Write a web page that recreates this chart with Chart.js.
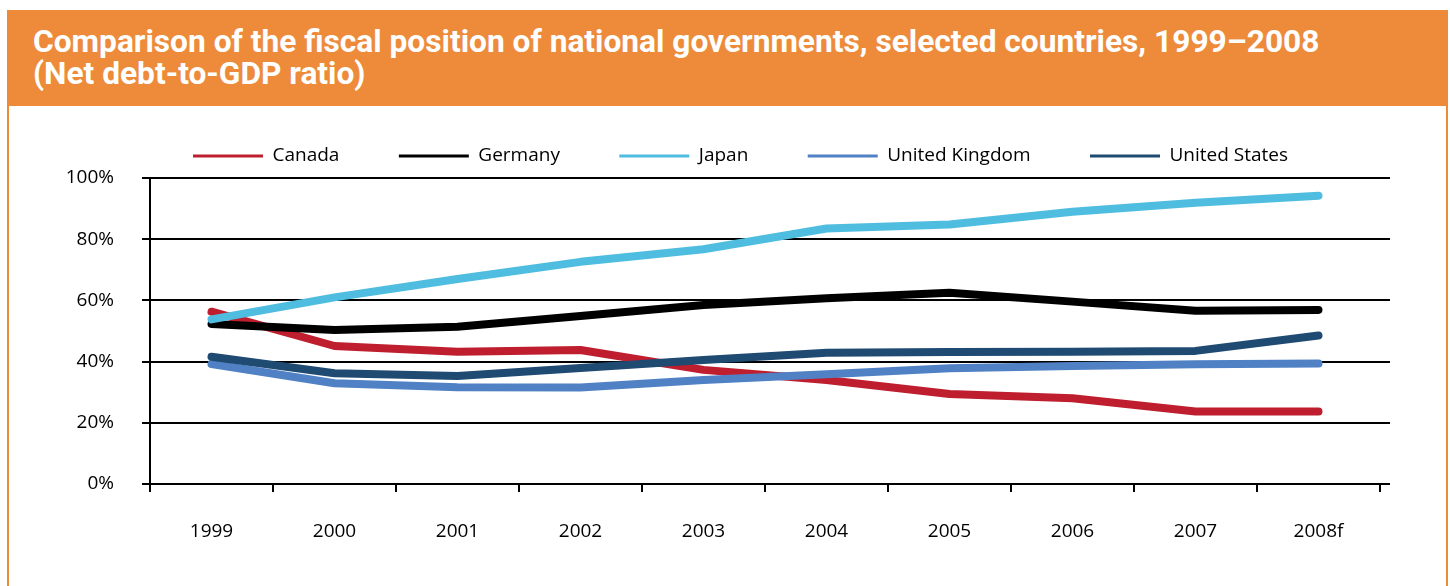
<!DOCTYPE html>
<html>
<head>
<meta charset="utf-8">
<script src="https://cdn.jsdelivr.net/npm/chart.js@4.4.1/dist/chart.umd.min.js"></script>
<style>
  html, body { margin: 0; padding: 0; background: #fff; }
  body { width: 1450px; height: 586px; position: relative; overflow: hidden; }
  #frame {
    position: absolute; left: 7px; top: 40px; width: 1437px; height: 600px;
    border-left: 2px solid #ed8b3b; border-right: 2px solid #ed8b3b;
  }
  #header {
    position: absolute; left: 7px; top: 10px; width: 1441px; height: 96px;
    background: #ed8b3b;
  }
  #title {
    position: absolute; left: 33px; top: 26px; color: #fff;
    font: bold 31.7px Roboto, sans-serif; line-height: 32px; white-space: nowrap;
  }
  #wrap { position: absolute; left: 0; top: 0; width: 1450px; height: 586px; }
</style>
</head>
<body>
<div id="frame"></div>
<div id="header"></div>
<div id="title">Comparison of the fiscal position of national governments, selected countries, 1999–2008<br>(Net debt-to-GDP ratio)</div>
<div id="wrap"><canvas id="chart"></canvas></div>
<script>
const years = ["1999", "2000", "2001", "2002", "2003", "2004", "2005", "2006", "2007", "2008f"];
const canada  = [56.3, 45.1, 43.2, 43.8, 37.3, 34.0, 29.4, 28.0, 23.7, 23.7];
const germany = [52.3, 50.3, 51.4, 54.9, 58.5, 60.7, 62.5, 59.6, 56.6, 56.9];
const japan   = [53.8, 61.0, 67.0, 72.6, 76.7, 83.5, 84.8, 89.0, 91.9, 94.2];
const uk      = [39.2, 32.9, 31.6, 31.5, 34.0, 35.9, 37.8, 38.6, 39.1, 39.4];
const us      = [41.6, 36.2, 35.3, 37.9, 40.5, 42.9, 43.1, 43.2, 43.5, 48.5];
const yMin = 0, yMax = 100, yStep = 20;

const seriesNames = ["Canada", "Germany", "Japan", "United Kingdom", "United States"];
const seriesColors = ["#be1e2d", "#000000", "#4fbddf", "#4f81c4", "#1f4a71"];
const seriesData = [canada, germany, japan, uk, us];

const FONT = "'Open Sans', sans-serif";
const FONT_SIZE = 19;
const BOX_W = 70;
const W = 1450;
const AREA = { left: 150, right: 1380, top: 178, bottom: 484 };
const LEGEND_Y = 156;

// legend spacing so the items land roughly where they sit in the original
const measure = document.createElement("canvas").getContext("2d");
measure.font = `${FONT_SIZE}px ${FONT}`;
const itemWidths = seriesNames.map((n) => BOX_W + FONT_SIZE / 2 + measure.measureText(n).width);
const legendGap = (1090 - 193 - itemWidths.slice(0, 4).reduce((a, b) => a + b, 0)) / 4;
const legendLine = itemWidths.reduce((a, b) => a + b, 0) + 5 * legendGap;
const diff = 2 * 193 - legendGap - W + legendLine; // padLeft - padRight
const padLeft = Math.max(diff, 0);
const padRight = padLeft - diff;
const padTop = LEGEND_Y - FONT_SIZE / 2 - legendGap;
const legendBottom = padTop + FONT_SIZE + legendGap + 10;

Chart.defaults.font.family = FONT;
Chart.defaults.font.size = FONT_SIZE;
Chart.defaults.color = "#000";

const extendGrid = {
  id: "extendGrid",
  afterDraw(chart) {
    const { ctx, chartArea, scales } = chart;
    const y = scales.y;
    ctx.save();
    ctx.strokeStyle = "#000";
    ctx.lineWidth = 2;
    y.ticks.forEach((t) => {
      const py = Math.round(y.getPixelForValue(t.value));
      ctx.beginPath();
      ctx.moveTo(chartArea.right, py);
      ctx.lineTo(chartArea.right + 10, py);
      ctx.stroke();
    });
    ctx.restore();
  }
};

new Chart(document.getElementById("chart"), {
  type: "line",
  data: {
    labels: years,
    datasets: seriesNames.map((name, i) => ({
      label: name,
      data: seriesData[i],
      borderColor: seriesColors[i],
      backgroundColor: seriesColors[i],
      borderWidth: 8,
      borderCapStyle: "round",
      borderJoinStyle: "round",
      pointRadius: 0,
      tension: 0,
      order: seriesNames.length - i
    }))
  },
  options: {
    responsive: true,
    maintainAspectRatio: false,
    animation: false,
    layout: {
      padding: { left: padLeft, right: padRight, top: padTop, bottom: 0 }
    },
    plugins: {
      tooltip: { enabled: false },
      legend: {
        position: "top",
        labels: {
          boxWidth: BOX_W,
          boxHeight: 3,
          padding: legendGap,
          color: "#000",
          font: { size: FONT_SIZE },
          sort: (a, b) => a.datasetIndex - b.datasetIndex,
          generateLabels(chart) {
            const items = Chart.defaults.plugins.legend.labels.generateLabels(chart);
            items.forEach((it) => {
              it.lineWidth = 0;
              it.fillStyle = it.strokeStyle;
            });
            return items;
          }
        }
      }
    },
    scales: {
      x: {
        offset: true,
        afterFit(scale) { scale.height = 586 - AREA.bottom; },
        border: { color: "#000", width: 2 },
        grid: {
          offset: true,
          drawOnChartArea: false,
          drawTicks: true,
          tickLength: 8,
          color: "#000",
          lineWidth: 2
        },
        ticks: { padding: 28, maxRotation: 0, color: "#000" }
      },
      y: {
        min: yMin,
        max: yMax,
        afterFit(scale) { scale.width = AREA.left - padLeft; },
        border: { color: "#000", width: 2 },
        grid: {
          color: "#000",
          lineWidth: 2,
          drawTicks: true,
          tickLength: 8
        },
        ticks: {
          stepSize: yStep,
          padding: 28,
          color: "#000",
          callback: (v) => v + "%"
        }
      },
      // empty spacers so the plot sits where the original's does
      spacerRight: {
        type: "linear",
        position: "right",
        afterFit(scale) { scale.width = W - padRight - AREA.right; },
        grid: { display: false },
        border: { display: false },
        ticks: { display: false }
      },
      spacerTop: {
        type: "linear",
        position: "top",
        afterFit(scale) { scale.height = Math.max(AREA.top - legendBottom, 0); },
        grid: { display: false },
        border: { display: false },
        ticks: { display: false }
      }
    }
  },
  plugins: [extendGrid]
});
</script>
</body>
</html>
